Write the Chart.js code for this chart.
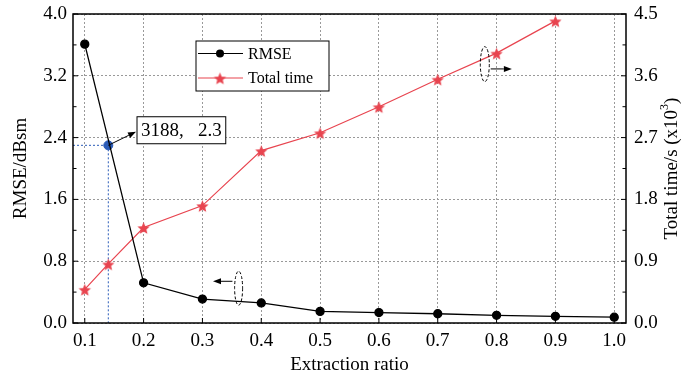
<!DOCTYPE html>
<html>
<head>
<meta charset="utf-8">
<script src="https://cdn.jsdelivr.net/npm/chart.js@4.4.1/dist/chart.umd.min.js"></script>
<style>
  html, body { margin: 0; padding: 0; background: #fff; }
  #wrap { width: 699px; height: 379px; }
</style>
</head>
<body>
<div id="wrap"><canvas id="chart" width="699" height="379"></canvas></div>
<script>
// ===== DATA =====
const ratios = [0.1, 0.2, 0.3, 0.4, 0.5, 0.6, 0.7, 0.8, 0.9, 1.0];
const rmse = [3.61, 0.52, 0.31, 0.26, 0.15, 0.135, 0.12, 0.10, 0.087, 0.075];
const timeRatios = [0.1, 0.14, 0.2, 0.3, 0.4, 0.5, 0.6, 0.7, 0.8, 0.9];
const totalTime = [0.49, 0.86, 1.39, 1.71, 2.51, 2.77, 3.15, 3.55, 3.93, 4.40];
const markRatio = 0.14;
const markRmse = 2.3;
const markLabel = '3188,   2.3';
const xTicks = [0.1, 0.2, 0.3, 0.4, 0.5, 0.6, 0.7, 0.8, 0.9, 1.0];
const yTicks = [0, 0.8, 1.6, 2.4, 3.2, 4.0];
const yMinor = [0.4, 1.2, 2.0, 2.8, 3.6];
const y1Ticks = [0, 0.9, 1.8, 2.7, 3.6, 4.5];
const y1Minor = [0.45, 1.35, 2.25, 3.15, 4.05];

const FONT = '"Liberation Serif", "Times New Roman", serif';
const RED = '#e8444f';
const BLUE = '#2b5cb8';

function makeStar(r, color) {
  const s = Math.ceil(r * 2 + 2);
  const c = document.createElement('canvas');
  c.width = c.height = s;
  const g = c.getContext('2d');
  g.beginPath();
  for (let i = 0; i < 10; i++) {
    const rr = i % 2 ? r * 0.45 : r;
    const a = -Math.PI / 2 + i * Math.PI / 5;
    g.lineTo(s / 2 + rr * Math.cos(a), s / 2 + 1 + rr * Math.sin(a));
  }
  g.closePath();
  g.fillStyle = color;
  g.fill();
  return c;
}
const star = makeStar(6.5, RED);

// ===== HELPERS =====
function arrow(ctx, x1, y1, x2, y2) {
  const a = Math.atan2(y2 - y1, x2 - x1);
  const L = 8, W = 3;
  ctx.beginPath();
  ctx.moveTo(x1, y1);
  ctx.lineTo(x2 - L * Math.cos(a), y2 - L * Math.sin(a));
  ctx.stroke();
  ctx.beginPath();
  ctx.moveTo(x2, y2);
  ctx.lineTo(x2 - L * Math.cos(a) + W * Math.sin(a), y2 - L * Math.sin(a) - W * Math.cos(a));
  ctx.lineTo(x2 - L * Math.cos(a) - W * Math.sin(a), y2 - L * Math.sin(a) + W * Math.cos(a));
  ctx.closePath();
  ctx.fill();
}

function ellipse(ctx, cx, cy, rx, ry) {
  ctx.save();
  ctx.setLineDash([3, 2]);
  ctx.lineWidth = 1;
  ctx.beginPath();
  ctx.ellipse(cx, cy, rx, ry, 0, 0, Math.PI * 2);
  ctx.stroke();
  ctx.restore();
}

// ===== PLUGIN: guides, frame, ticks, legend, notes =====
const decor = {
  id: 'decor',
  beforeDatasetsDraw(chart) {
    const { ctx, scales: { x, y } } = chart;
    const px = x.getPixelForValue(markRatio), py = y.getPixelForValue(markRmse);
    ctx.save();
    ctx.strokeStyle = BLUE;
    ctx.lineWidth = 1;
    ctx.setLineDash([2, 2]);
    ctx.beginPath();
    ctx.moveTo(chart.chartArea.left, py); ctx.lineTo(px, py);
    ctx.moveTo(px, py); ctx.lineTo(px, chart.chartArea.bottom);
    ctx.stroke();
    ctx.restore();
  },
  afterDatasetsDraw(chart) {
    const { ctx, chartArea: a, scales: { x, y, y1 } } = chart;
    ctx.save();
    ctx.strokeStyle = '#000';
    ctx.fillStyle = '#000';

    // frame
    ctx.lineWidth = 1.5;
    ctx.strokeRect(a.left, a.top, a.right - a.left, a.bottom - a.top);

    // inward ticks
    ctx.lineWidth = 1;
    ctx.beginPath();
    xTicks.forEach(v => { const p = x.getPixelForValue(v); ctx.moveTo(p, a.bottom); ctx.lineTo(p, a.bottom - 5); });
    yTicks.forEach(v => { const p = y.getPixelForValue(v); ctx.moveTo(a.left, p); ctx.lineTo(a.left + 5, p); });
    yMinor.forEach(v => { const p = y.getPixelForValue(v); ctx.moveTo(a.left, p); ctx.lineTo(a.left + 3.5, p); });
    y1Ticks.forEach(v => { const p = y1.getPixelForValue(v); ctx.moveTo(a.right, p); ctx.lineTo(a.right - 5, p); });
    y1Minor.forEach(v => { const p = y1.getPixelForValue(v); ctx.moveTo(a.right, p); ctx.lineTo(a.right - 3.5, p); });
    ctx.stroke();

    // axis ellipses + arrows
    ellipse(ctx, x.getPixelForValue(0.3615), y.getPixelForValue(0.45), 4, 17);
    arrow(ctx, x.getPixelForValue(0.351), y.getPixelForValue(0.54), x.getPixelForValue(0.318), y.getPixelForValue(0.54));
    ellipse(ctx, x.getPixelForValue(0.780), y1.getPixelForValue(3.77), 4.5, 17.5);
    arrow(ctx, x.getPixelForValue(0.790), y1.getPixelForValue(3.70), x.getPixelForValue(0.826), y1.getPixelForValue(3.70));

    // point label
    ctx.font = '19px ' + FONT;
    const bx = x.getPixelForValue(0.1888), by = y.getPixelForValue(2.67);
    const tw = ctx.measureText(markLabel).width;
    const bw = tw + 8, bh = 27;
    ctx.fillStyle = '#fff';
    ctx.fillRect(bx, by, bw, bh);
    ctx.lineWidth = 1;
    ctx.strokeRect(bx, by, bw, bh);
    ctx.fillStyle = '#000';
    ctx.textBaseline = 'middle';
    ctx.textAlign = 'left';
    ctx.fillText(markLabel, bx + 4, by + bh / 2 + 1);
    arrow(ctx, x.getPixelForValue(markRatio), y.getPixelForValue(markRmse), bx - 1, by + 15);

    // legend
    const lx = a.left + 123, ly = a.top + 27;
    ctx.lineWidth = 1;
    ctx.fillStyle = '#fff';
    ctx.fillRect(lx, ly, 133, 50);
    ctx.strokeRect(lx, ly, 133, 50);
    ctx.font = '16px ' + FONT;
    const rows = [
      { y: ly + 12.5, color: '#000', marker: 'circle', label: chart.data.datasets[0].label },
      { y: ly + 37, color: RED, marker: 'star', label: chart.data.datasets[1].label }
    ];
    rows.forEach(r => {
      ctx.strokeStyle = r.color;
      ctx.lineWidth = 1.2;
      ctx.beginPath(); ctx.moveTo(lx + 2, r.y); ctx.lineTo(lx + 47, r.y); ctx.stroke();
      if (r.marker === 'circle') {
        ctx.fillStyle = '#000';
        ctx.beginPath(); ctx.arc(lx + 24, r.y, 4, 0, Math.PI * 2); ctx.fill();
      } else {
        ctx.drawImage(star, lx + 24 - star.width / 2, r.y - star.height / 2);
      }
      ctx.fillStyle = '#000';
      ctx.fillText(r.label, lx + 52, r.y + 1);
    });

    // right axis title with superscript
    ctx.save();
    ctx.translate(672, (a.top + a.bottom) / 2);
    ctx.rotate(-Math.PI / 2);
    const t1 = 'Total time/s (x10', t2 = '3', t3 = ')';
    ctx.font = '19px ' + FONT;
    const w1 = ctx.measureText(t1).width;
    ctx.font = '12px ' + FONT;
    const w2 = ctx.measureText(t2).width;
    ctx.font = '19px ' + FONT;
    const w3 = ctx.measureText(t3).width;
    let sx = -(w1 + w2 + w3) / 2;
    ctx.textAlign = 'left';
    ctx.textBaseline = 'middle';
    ctx.fillText(t1, sx, 0);
    ctx.font = '12px ' + FONT;
    ctx.fillText(t2, sx + w1, -7);
    ctx.font = '19px ' + FONT;
    ctx.fillText(t3, sx + w1 + w2, 0);
    ctx.restore();

    ctx.restore();
  }
};

// ===== CHART =====
const tickFont = { family: FONT, size: 19 };
const setTicks = list => s => { s.ticks = list.map(v => ({ value: v })); };
const fitY = s => { s.width = 73; s.paddingTop = 0; s.paddingBottom = 0; };

new Chart(document.getElementById('chart'), {
  type: 'line',
  data: {
    datasets: [
      {
        label: 'RMSE',
        data: ratios.map((r, i) => ({ x: r, y: rmse[i] })),
        yAxisID: 'y',
        borderColor: '#000',
        backgroundColor: '#000',
        borderWidth: 1.3,
        pointRadius: 4,
        pointStyle: 'circle',
        tension: 0
      },
      {
        label: 'Total time',
        data: timeRatios.map((r, i) => ({ x: r, y: totalTime[i] })),
        yAxisID: 'y1',
        borderColor: RED,
        backgroundColor: RED,
        borderWidth: 1.2,
        pointStyle: star,
        pointRadius: 6,
        tension: 0
      },
      {
        label: 'mark',
        data: [{ x: markRatio, y: markRmse }],
        yAxisID: 'y',
        borderColor: BLUE,
        backgroundColor: BLUE,
        pointRadius: 4.5,
        showLine: false
      }
    ]
  },
  options: {
    responsive: false,
    animation: false,
    devicePixelRatio: 1,
    layout: { padding: { top: 14, left: 0, right: 0, bottom: 0 } },
    plugins: { legend: { display: false }, tooltip: { enabled: false } },
    scales: {
      x: {
        type: 'linear', min: 0.08, max: 1.02,
        afterBuildTicks: setTicks(xTicks),
        afterFit: s => { s.height = 56; s.paddingLeft = 0; s.paddingRight = 0; },
        ticks: { font: tickFont, color: '#000', padding: 7, maxRotation: 0, autoSkip: false, callback: v => v.toFixed(1) },
        grid: { color: '#999', lineWidth: 1, drawTicks: false },
        border: { display: false, dash: [2, 2] },
        title: { display: true, text: 'Extraction ratio', font: tickFont, color: '#000', padding: { top: 0, bottom: 3 } }
      },
      y: {
        type: 'linear', position: 'left', min: 0, max: 4,
        afterBuildTicks: setTicks(yTicks),
        afterFit: fitY,
        ticks: { font: tickFont, color: '#000', padding: 6, autoSkip: false, callback: v => v.toFixed(1) },
        grid: { color: '#999', lineWidth: 1, drawTicks: false },
        border: { display: false, dash: [2, 2] },
        title: { display: true, text: 'RMSE/dBsm', font: tickFont, color: '#000', padding: { top: 10, bottom: 0 } }
      },
      y1: {
        type: 'linear', position: 'right', min: 0, max: 4.5,
        afterBuildTicks: setTicks(y1Ticks),
        afterFit: fitY,
        ticks: { font: tickFont, color: '#000', padding: 8, autoSkip: false, callback: v => v.toFixed(1) },
        grid: { display: false, drawTicks: false },
        border: { display: false }
      }
    }
  },
  plugins: [decor]
});
</script>
</body>
</html>
